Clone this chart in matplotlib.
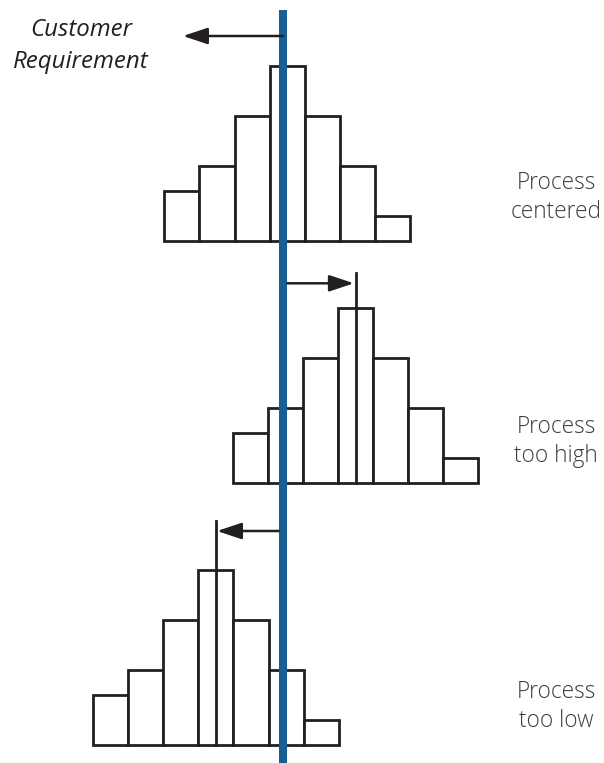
import matplotlib
matplotlib.use("Agg")
import matplotlib.pyplot as plt
import numpy as np

# ---- data -------------------------------------------------------------
counts_centered = [2, 3, 5, 7, 5, 3, 1]
counts_high = [2, 3, 5, 7, 5, 3, 1]
counts_low = [2, 3, 5, 7, 5, 3, 1]
# process mean (in bin widths, relative to the centered process)
mean_centered = 0.0
mean_high = 1.95
mean_low = -2.03
requirement = -0.12          # customer requirement line position
labels = ["Process\ncentered", "Process\ntoo high", "Process\ntoo low"]
req_label = "Customer\nRequirement"

# ---- layout (figure in px, 1 x-unit = one bin = 35.1px, 1 y-unit = 25px)
W, H = 604, 763
BIN_PX, UNIT_PX = 35.1, 25.0
X0 = 287.2
baselines = [(H - 240.7) / UNIT_PX, (H - 483.3) / UNIT_PX, (H - 745.3) / UNIT_PX]

fig = plt.figure(figsize=(W / 100, H / 100), dpi=100)
ax = fig.add_axes([0, 0, 1, 1])
ax.set_xlim(-X0 / BIN_PX, (W - X0) / BIN_PX)
ax.set_ylim(0, H / UNIT_PX)
ax.axis("off")

edge = "#231f20"
blue = "#1a5f94"

def draw_hist(counts, mean, base):
    n = len(counts)
    centers = mean + np.arange(n) - (n - 1) / 2
    ax.bar(centers, counts, width=1.0, bottom=base, facecolor="white",
           edgecolor=edge, linewidth=2.0, zorder=2)
    return centers

draw_hist(counts_centered, mean_centered, baselines[0])
draw_hist(counts_high, mean_high, baselines[1])
draw_hist(counts_low, mean_low, baselines[2])

# mean lines for the shifted processes
top_high = (H - 272.7) / UNIT_PX
top_low = (H - 521) / UNIT_PX
ax.plot([mean_high, mean_high], [baselines[1], top_high], color=edge, lw=2.0, zorder=3)
ax.plot([mean_low, mean_low], [baselines[2], top_low], color=edge, lw=2.0, zorder=3)

# customer requirement line
ax.plot([requirement, requirement], [0, (H - 10) / UNIT_PX], color=blue,
        lw=5.8, solid_capstyle="butt", zorder=4)

arrow_kw = dict(arrowstyle="-|>,head_length=1.5,head_width=0.5", color="#231f20",
                lw=1.8, shrinkA=0, shrinkB=0, mutation_scale=10)

def arrow(x0, x1, y):
    ax.annotate("", xy=(x1, y), xytext=(x0, y), arrowprops=arrow_kw, zorder=5)

arrow(requirement, -2.97, (H - 36) / UNIT_PX)
arrow(requirement + 0.12, mean_high - 0.05, (H - 283.3) / UNIT_PX)
arrow(requirement - 0.11, mean_low + 0.03, (H - 531) / UNIT_PX)

# texts (y = baseline of the last line)
ax.text((81 - X0) / BIN_PX, (H - 68.5) / UNIT_PX, req_label, family="Open Sans",
        style="italic", fontsize=17.3, color="#231f20", ha="center", va="baseline",
        linespacing=1.5)

label_y = [218, 462, 727]
for lab, py in zip(labels, label_y):
    ax.text((556 - X0) / BIN_PX, (H - py) / UNIT_PX, lab, family="Open Sans",
            weight="light", fontsize=16.3, color="#3c3c3c", ha="center",
            va="baseline", linespacing=1.3)

fig.savefig("out.png", dpi=100)
